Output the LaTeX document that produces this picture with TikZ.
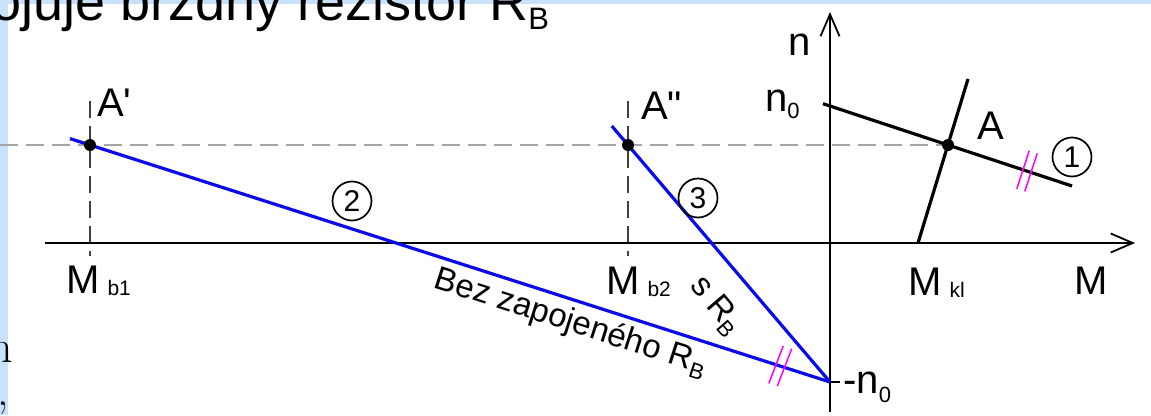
\documentclass[tikz,border=0pt]{standalone}
\usepackage{fontspec}
\setsansfont{Liberation Sans}
\newfontfamily\plainsans{Liberation Sans}[Ligatures=TeXOff]
\usetikzlibrary{arrows.meta,calc}
\definecolor{band}{RGB}{200,226,252}
\definecolor{dashgray}{RGB}{165,165,165}
\definecolor{tickmag}{RGB}{255,0,255}
\definecolor{lineblue}{RGB}{10,10,235}
\newcommand{\subsz}{\fontsize{21}{21}\selectfont}
\newcommand{\subz}{\fontsize{22}{22}\selectfont}
\begin{document}
\begin{tikzpicture}[x=1pt,y=-1pt,
  axis/.style={line width=1.8pt, -{Straight Barb[length=22pt,width=19pt,line width=1.8pt]}},
  blk/.style={line width=3.2pt, black},
  bl/.style={line width=3.2pt, lineblue},
  hdash/.style={line width=2.2pt, dashgray, dash pattern=on 18pt off 8pt},
  vdash/.style={line width=1.6pt, black!75, dash pattern=on 17pt off 8pt},
  dot/.style={circle, fill=black, inner sep=0pt, minimum size=12pt},
  num/.style={circle, draw, line width=1.7pt, inner sep=0pt, minimum size=39pt, font=\sffamily\fontsize{30}{30}\selectfont},
  lbl/.style={font=\sffamily\fontsize{40}{40}\selectfont, inner sep=0pt, anchor=base west},
  plbl/.style={font=\plainsans\fontsize{40}{40}\selectfont, inner sep=0pt, anchor=base west},
  rlbl/.style={font=\sffamily\fontsize{33}{33}\selectfont, inner sep=0pt, anchor=base},
  mag/.style={line width=1.5pt, tickmag},
  tickl/.style={line width=1.8pt, black}
  ]
\useasboundingbox (0,0) rectangle (1151,415);
\fill[white] (0,0) rectangle (1151,415);
\fill[band] (0,0) rectangle (1151,4);
\fill[band] (0,0) rectangle (8,415);

% background text fragments
\node[font=\sffamily\fontsize{54}{54}\selectfont, inner sep=0pt, anchor=base west] (title) at (-9,20)
  {ojuje brzdný rezistor R\raisebox{-9pt}{\fontsize{31}{31}\selectfont B}};
\node[font=\fontsize{46}{46}\selectfont, inner sep=0pt, anchor=base west] (hfrag) at (-11,362) {h};
\node[font=\fontsize{46}{46}\selectfont, inner sep=0pt, anchor=base west] (cfrag) at (-3,405) {,};

% coordinates
\coordinate (mL) at (45,243);
\coordinate (mR) at (1135,243);
\coordinate (nB) at (830,412);
\coordinate (nT) at (830,12);
\coordinate (n0) at (830,106);
\coordinate (n0l) at (823,103.7);
\coordinate (mn0) at (830,382);
\coordinate (mn0t) at (840,382);
\coordinate (A) at (948,145);
\coordinate (Ap) at (90,145);
\coordinate (App) at (628,145);
\coordinate (L1e) at (1072,186);
\coordinate (K1) at (968,79);
\coordinate (K2) at (918,243);
\coordinate (L2s) at (70,138.6);
\coordinate (L3s) at (611.8,126);
\coordinate (hd0) at (0,145);
\coordinate (vAt) at (90,101);
\coordinate (vAb) at (90,256);
\coordinate (vAAt) at (628,101);
\coordinate (vAAb) at (628,256);
\coordinate (t1a) at (1023,169.8);
\coordinate (t1b) at (1031,172.4);
\coordinate (t2a) at (776,364.7);
\coordinate (t2b) at (784.5,367.4);

% dashed helpers
\draw[hdash] (hd0) -- (A);
\draw[vdash] (vAt) -- (vAb);
\draw[vdash] (vAAt) -- (vAAb);

% axes
\draw[axis] (mL) -- (mR);
\draw[axis] (nB) -- (nT);
\draw[tickl] (mn0) -- (mn0t);

% characteristics
\draw[blk] (n0l) -- (L1e);
\draw[blk] (K1) -- (K2);
\draw[bl] (L2s) -- (mn0);
\draw[bl] (L3s) -- (mn0);

% magenta marks
\draw[mag] ($(t1a)+(-6.2,19)$) -- ($(t1a)+(6.2,-19)$);
\draw[mag] ($(t1b)+(-6.2,19)$) -- ($(t1b)+(6.2,-19)$);
\draw[mag] ($(t2a)+(-7.2,18.7)$) -- ($(t2a)+(7.2,-18.7)$);
\draw[mag] ($(t2b)+(-7.2,18.7)$) -- ($(t2b)+(7.2,-18.7)$);

% points
\node[dot] (pA) at (A) {};
\node[dot] (pAp) at (Ap) {};
\node[dot] (pApp) at (App) {};

% circled numbers
\node[num] (c1) at (1072,157) {1};
\node[num] (c2) at (352,201) {2};
\node[num] (c3) at (698,198) {3};

% labels
\node[plbl] (lAp) at (97,116) {A'};
\node[plbl] (lApp) at (641,119) {A"};
\node[lbl] (lA) at (977,139) {A};
\node[lbl] (ln) at (788,55) {n};
\node[lbl] (ln0) at (765,111) {n\raisebox{-7pt}{\subz 0}};
\node[lbl] (lmn0) at (843,393) {-n\raisebox{-9pt}{\subz 0}};
\node[lbl] (lMb1) at (66,293) {M\hspace{8pt}\raisebox{-2pt}{\subsz b1}};
\node[lbl] (lMb2) at (606,294) {M\hspace{8pt}\raisebox{-2pt}{\subsz b2}};
\node[lbl] (lMkl) at (908,295) {M\hspace{8pt}\raisebox{-2pt}{\subsz kl}};
\node[lbl] (lM) at (1074,294) {M};

\node[rlbl, rotate=-17.76] (lbez) at (568,331) {Bez zapojeného R\raisebox{-7pt}{\fontsize{22}{22}\selectfont B}};
\node[rlbl, rotate=-49.55] (lsrb) at (710,311) {s R\raisebox{-7pt}{\fontsize{22}{22}\selectfont B}};
\end{tikzpicture}
\end{document}
